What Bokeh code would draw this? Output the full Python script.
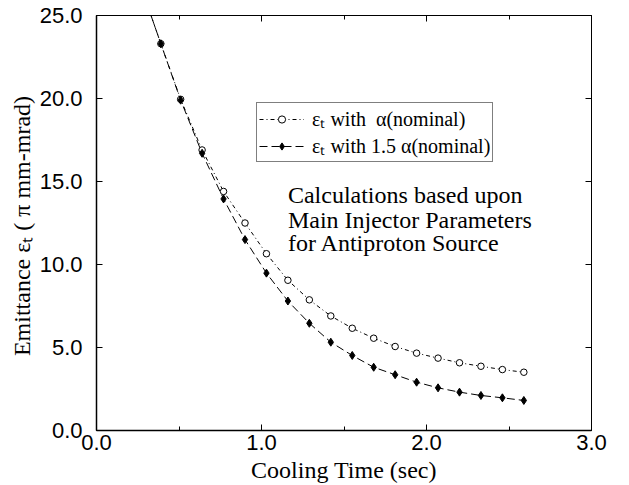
from bokeh.plotting import figure
from bokeh.models import (FixedTicker, PrintfTickFormatter, LinearAxis, Range1d,
                          Legend, LegendItem, Label)
from bokeh.embed import file_html
from bokeh.resources import INLINE

# ---- data ----
time_s = [0.26, 0.39, 0.51, 0.64, 0.77, 0.90, 1.03, 1.16, 1.29, 1.42, 1.55,
          1.68, 1.81, 1.94, 2.07, 2.20, 2.33, 2.46, 2.59]
emit_nominal = [27.0, 23.3, 19.95, 16.9, 14.4, 12.5, 10.65, 9.05, 7.87, 6.9,
                6.16, 5.56, 5.06, 4.66, 4.36, 4.08, 3.87, 3.67, 3.51]
emit_15 = [27.0, 23.3, 19.9, 16.7, 13.95, 11.5, 9.48, 7.8, 6.46, 5.32, 4.52,
           3.81, 3.36, 2.91, 2.57, 2.31, 2.11, 1.97, 1.81]
x_ticks = [0.0, 1.0, 2.0, 3.0]
x_minor = [0.5, 1.5, 2.5]
y_ticks = [0.0, 5.0, 10.0, 15.0, 20.0, 25.0]
legend_labels = ["\u03b5\u209c with  \u03b1(nominal)", "\u03b5\u209c with 1.5 \u03b1(nominal)"]
note_lines = ["Calculations based upon", "Main Injector Parameters", " for Antiproton Source"]
x_title = "Cooling Time (sec)"
y_title = "Emittance \u03b5\u209c ( \u03c0  mm-mrad)"

SANS = "Liberation Sans"
SERIF = "Liberation Serif"

p = figure(width=629, height=485, output_backend="svg", toolbar_location=None,
           x_range=Range1d(0, 3), y_range=Range1d(0, 25),
           min_border_left=96, min_border_right=38, min_border_top=15,
           min_border_bottom=55)
p.background_fill_color = "white"
p.border_fill_color = "white"
p.outline_line_color = "black"
p.outline_line_width = 1
p.xgrid.visible = False
p.ygrid.visible = False

def style_axis(ax, ticks, minor, show_labels, width):
    ax.ticker = FixedTicker(ticks=ticks, minor_ticks=minor)
    ax.formatter = PrintfTickFormatter(format="%.1f")
    ax.axis_line_color = "black"
    ax.axis_line_width = width
    ax.major_tick_in = 6
    ax.major_tick_out = 0
    ax.minor_tick_in = 4
    ax.minor_tick_out = 0
    ax.major_tick_line_color = "black"
    ax.minor_tick_line_color = "black"
    ax.major_label_text_font = SANS
    ax.major_label_text_font_size = "22px"
    ax.major_label_text_color = "black"
    if not show_labels:
        ax.major_label_overrides = {t: "" for t in ticks}
        ax.major_label_standoff = 0

xa = p.xaxis[0]
ya = p.yaxis[0]
style_axis(xa, x_ticks, x_minor, True, 1.5)
style_axis(ya, y_ticks, [], True, 1.5)
xa.major_label_standoff = 4
ya.major_label_standoff = 14
xa.axis_label = x_title
ya.axis_label = y_title
for ax in (xa, ya):
    ax.axis_label_text_font = SERIF
    ax.axis_label_text_font_size = "24px"
    ax.axis_label_text_font_style = "normal"
    ax.axis_label_text_color = "black"
xa.axis_label_standoff = 4
ya.axis_label_standoff = 2

top = LinearAxis()
style_axis(top, x_ticks, x_minor, False, 1)
right = LinearAxis()
style_axis(right, y_ticks, [], False, 1)
p.add_layout(top, "above")
p.add_layout(right, "right")

l1 = p.line(time_s, emit_nominal, line_color="black", line_width=1, line_dash="4 3 1 3")
s1 = p.scatter(time_s, emit_nominal, marker="circle", size=6.5, fill_color="white",
               line_color="black", line_width=1)
l2 = p.line(time_s, emit_15, line_color="black", line_width=1, line_dash="8 4")
s2 = p.scatter(time_s, emit_15, marker="diamond", size=8, fill_color="black",
               line_color="black", line_width=1)

legend = Legend(items=[LegendItem(label=legend_labels[0], renderers=[l1, s1]),
                       LegendItem(label=legend_labels[1], renderers=[l2, s2])],
                location=(160, 268))
legend.label_text_font = SERIF
legend.label_text_font_size = "20px"
legend.label_text_line_height = 1.0
legend.label_text_color = "black"
legend.border_line_color = "black"
legend.border_line_width = 1
legend.background_fill_color = "white"
legend.background_fill_alpha = 1
legend.glyph_width = 45
legend.glyph_height = 18
legend.label_height = 18
legend.label_standoff = 8
legend.spacing = 0
legend.padding = 2
legend.margin = 0
p.add_layout(legend, "center")

note_y = [14.2, 12.7, 11.27]
for txt, yy in zip(note_lines, note_y):
    p.add_layout(Label(x=1.16, y=yy, text=txt, text_font=SERIF, text_font_size="24px",
                       text_color="black", text_baseline="alphabetic"))

open("out.html", "w").write(file_html(p, INLINE))
